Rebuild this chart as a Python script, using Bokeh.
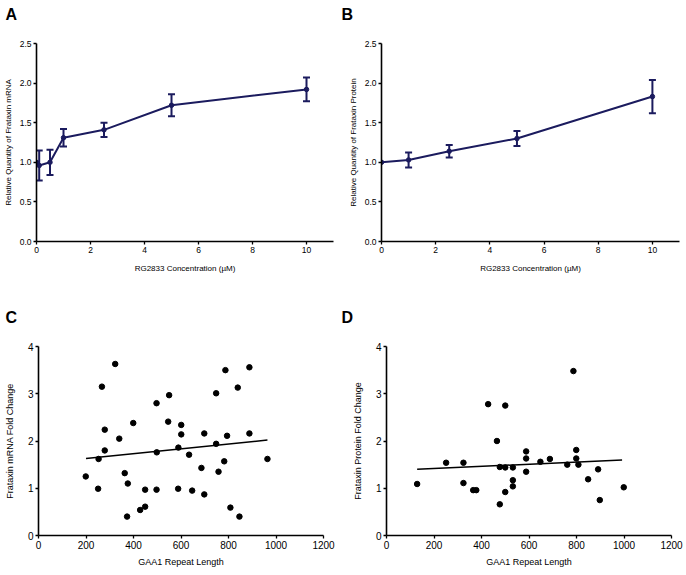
from bokeh.plotting import figure
from bokeh.models import (Range1d, FixedTicker, PrintfTickFormatter, Whisker, TeeHead,
                          ColumnDataSource, Title)
from bokeh.layouts import column, row
from bokeh.embed import file_html
from bokeh.resources import INLINE

# ---------------- data ----------------
# Panel A: frataxin mRNA vs RG2833 concentration
a_conc = [0, 0.1, 0.5, 1, 2.5, 5, 10]
a_mean = [1.00, 0.96, 1.00, 1.31, 1.41, 1.72, 1.92]
a_err = [0.00, 0.19, 0.16, 0.11, 0.09, 0.14, 0.15]

# Panel B: frataxin protein vs RG2833 concentration
b_conc = [0, 1, 2.5, 5, 10]
b_mean = [1.00, 1.03, 1.14, 1.30, 1.83]
b_err = [0.00, 0.095, 0.08, 0.095, 0.21]

conc_ticks = [0, 2, 4, 6, 8, 10]
rel_ticks = [0.0, 0.5, 1.0, 1.5, 2.0, 2.5]

# Panel C: mRNA fold change vs GAA1 repeat length
c_len = [199, 251, 253, 267, 279, 279, 323, 340, 363, 376, 373, 399, 428, 449, 449,
         497, 498, 497, 550, 546, 589, 588, 601, 601, 634, 647, 686, 698, 698, 748,
         748, 758, 782, 787, 794, 808, 839, 846, 888, 888, 964]
c_fold = [1.25, 0.99, 1.62, 3.15, 2.24, 1.80, 3.63, 2.05, 1.32, 1.10, 0.40, 2.38, 0.54, 0.97, 0.61,
          2.80, 1.76, 0.97, 2.97, 2.41, 1.86, 0.99, 2.34, 2.14, 1.71, 0.95, 1.43, 2.16, 0.87, 3.01,
          1.94, 1.35, 1.57, 3.50, 2.11, 0.59, 3.13, 0.40, 3.56, 2.16, 1.62]
c_fit_x = [200, 964]
c_fit_y = [1.63, 2.02]

# Panel D: protein fold change vs GAA1 repeat length
d_len = [129, 251, 324, 324, 365, 378, 428, 465, 477, 477, 500, 500, 500, 532, 532,
         532, 588, 588, 588, 648, 688, 761, 787, 799, 799, 808, 849, 891, 898, 999]
d_fold = [1.09, 1.54, 1.54, 1.11, 0.96, 0.96, 2.78, 2.00, 1.45, 0.66, 2.75, 1.44, 0.92, 1.44, 1.17,
          1.04, 1.78, 1.63, 1.35, 1.56, 1.62, 1.50, 3.48, 1.81, 1.63, 1.50, 1.19, 1.40, 0.75, 1.02]
d_fit_x = [129, 992]
d_fit_y = [1.40, 1.60]

len_ticks = [0, 200, 400, 600, 800, 1000, 1200]
fold_ticks = [0, 1, 2, 3, 4]

NAVY = "#1b1b5e"
FONT = "Liberation Sans"


def style(p, xticks, yticks, tick_size, label_size, xstand, ystand, yfmt=None):
    p.outline_line_color = None
    p.xgrid.visible = False
    p.ygrid.visible = False
    p.background_fill_color = "white"
    p.border_fill_color = "white"
    for ax in (p.xaxis[0], p.yaxis[0]):
        ax.axis_line_width = 1.6
        ax.axis_line_color = "black"
        ax.major_tick_line_width = 1.3
        ax.major_tick_line_color = "black"
        ax.major_tick_out = 3
        ax.major_tick_in = 0
        ax.minor_tick_line_color = None
        ax.major_label_text_font = FONT
        ax.major_label_text_font_size = tick_size
        ax.major_label_text_color = "black"
        ax.major_label_standoff = 2
        ax.axis_label_text_font = FONT
        ax.axis_label_text_font_size = label_size
        ax.axis_label_text_font_style = "normal"
        ax.axis_label_text_color = "black"
    p.xaxis[0].ticker = FixedTicker(ticks=xticks)
    p.yaxis[0].ticker = FixedTicker(ticks=yticks)
    p.xaxis[0].axis_label_standoff = xstand
    p.yaxis[0].axis_label_standoff = ystand
    if yfmt:
        p.yaxis[0].formatter = PrintfTickFormatter(format=yfmt)


def letter(p, txt, offset):
    # invisible spacer nearest the frame, then the panel letter above it
    p.add_layout(Title(text=" ", standoff=1, text_font=FONT, text_font_size="10px",
                       text_color="white"), "above")
    p.add_layout(Title(text=txt, align="left", offset=offset, standoff=10,
                       vertical_align="top",
                       text_font=FONT, text_font_size="16px", text_font_style="bold",
                       text_color="black"), "above")


def dose_panel(conc, mean, err, ylabel, width, mbl, mbr):
    p = figure(width=width, height=295, output_backend="svg", toolbar_location=None,
               x_range=Range1d(0, 11), y_range=Range1d(0, 2.5),
               min_border_left=mbl, min_border_right=mbr, min_border_top=43, min_border_bottom=54)
    style(p, conc_ticks, rel_ticks, "8.5px", "8px", 8, 4, "%.1f")
    p.xaxis.axis_label = "RG2833 Concentration (\u00b5M)"
    p.yaxis.axis_label = ylabel
    p.line(conc, mean, line_color=NAVY, line_width=2)
    p.scatter(conc, mean, size=4.5, fill_color=NAVY, line_color=NAVY)
    wx = [c for c, e in zip(conc, err) if e > 0]
    wu = [m + e for m, e in zip(mean, err) if e > 0]
    wl = [m - e for m, e in zip(mean, err) if e > 0]
    src = ColumnDataSource(data=dict(x=wx, upper=wu, lower=wl))
    p.add_layout(Whisker(base="x", upper="upper", lower="lower", source=src,
                         line_color=NAVY, line_width=2,
                         upper_head=TeeHead(size=7, line_color=NAVY, line_width=2),
                         lower_head=TeeHead(size=7, line_color=NAVY, line_width=2)))
    return p


def scatter_panel(xs, ys, fx, fy, ylabel, width, mbl, mbr):
    p = figure(width=width, height=280, output_backend="svg", toolbar_location=None,
               x_range=Range1d(0, 1200), y_range=Range1d(0, 4),
               min_border_left=mbl, min_border_right=mbr, min_border_top=51, min_border_bottom=40)
    style(p, len_ticks, fold_ticks, "10px", "9px", 5, 10)
    p.xaxis.axis_label = "GAA1 Repeat Length"
    p.yaxis.axis_label = ylabel
    p.line(fx, fy, line_color="black", line_width=1.5)
    p.scatter(xs, ys, size=5.5, fill_color="black", line_color="black")
    return p


pA = dose_panel(a_conc, a_mean, a_err, "Relative Quantity of Frataxin mRNA", 338, 34, 5)
pB = dose_panel(b_conc, b_mean, b_err, "Relative Quantity of Frataxin Protein", 348, 43, 7)
pC = scatter_panel(c_len, c_fold, c_fit_x, c_fit_y, "Frataxin mRNA Fold Change", 338, 38, 15)
pD = scatter_panel(d_len, d_fold, d_fit_x, d_fit_y, "Frataxin Protein Fold Change", 348, 48, 15)

letter(pA, "A", -31)
letter(pB, "B", -40)
letter(pC, "C", -33)
letter(pD, "D", -45)

layout = column(row(pA, pB), row(pC, pD))
open("out.html", "w").write(file_html(layout, INLINE))
